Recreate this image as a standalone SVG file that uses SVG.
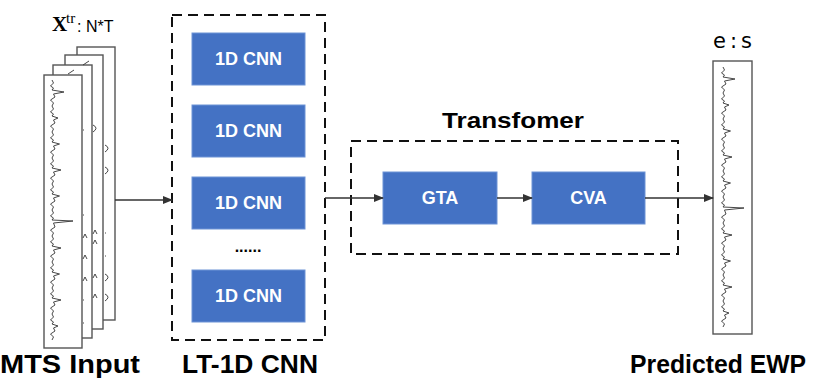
<svg xmlns="http://www.w3.org/2000/svg" xmlns:xlink="http://www.w3.org/1999/xlink" width="815" height="381" viewBox="0 0 815 381">
<style>
.frame{fill:#fff;stroke:#555;stroke-width:1.4}
.trace{fill:none;stroke:#333;stroke-width:0.9;stroke-linejoin:round}
.dash{fill:none;stroke:#111;stroke-width:2;stroke-dasharray:10,6}
.blk{fill:#4472C4;stroke:#6d93d6;stroke-width:1}
.bt{fill:#fff;font-family:"Liberation Sans",Arial,sans-serif;font-weight:bold;font-size:18px;text-anchor:middle}
.big{fill:#000;font-family:"Liberation Sans",Arial,sans-serif;font-weight:bold;font-size:26px;text-anchor:middle}
.conn{fill:none;stroke:#333;stroke-width:1.6}
</style>
<defs>
<marker id="ah" markerWidth="10" markerHeight="8" refX="9" refY="4" orient="auto" markerUnits="userSpaceOnUse">
<path d="M0,0 L10,4 L0,8 Z" fill="#333"/>
</marker>
<path id="ecg" vector-effect="non-scaling-stroke" d="M0,0 l1,3 l-2,3 l2,2 l-1,2 l8,2 l-7,2 l1,3 l-3,3 l2,3 l-1,3 l1,3 l-2,3 l2,2 l-1,2 l4,2 l-3,2 l1,3 l-3,3 l2,3 l-1,3 l1,3 l-2,3 l2,2 l-1,2 l5,2 l-4,2 l1,3 l-3,3 l2,3 l-1,3 l1,3 l-2,3 l2,2 l-1,2 l6,2 l-5,2 l1,3 l-3,3 l2,3 l-1,3 l1,3 l-2,3 l2,2 l-1,2 l5,2 l-4,2 l1,3 l-3,3 l2,3 l-1,3 l1,3 l-2,3 l2,2 l-1,2 l14,1 l-13,2 l1,4 l-3,3 l2,3 l-1,3 l1,3 l-2,3 l2,2 l-1,2 l6,2 l-5,2 l1,3 l-3,3 l2,3 l-1,3 l1,3 l-2,3 l2,2 l-1,2 l5,2 l-4,2 l1,3 l-3,3 l2,3 l-1,3 l1,3 l-2,3 l2,2 l-1,2 l6,2 l-5,2 l1,3 l-3,3 l2,3 l-1,3 l1,3 l-2,3 l2,2 l-1,2 l4,2 l-3,2 l1,3 l-3,3 l2,3 l-1,3"/>
</defs>

<g id="mts-input">
<rect class="frame" x="77" y="47" width="38" height="273"/>
<rect class="frame" x="65" y="55" width="38" height="274"/>
<rect class="frame" x="53" y="65" width="39" height="273"/>
<rect class="frame" x="44" y="75" width="38" height="273"/>
<use xlink:href="#ecg" class="trace" transform="translate(52,80) scale(1.5,1)"/>
<path class="trace" d="M83,65 l6,-4 M68,74 l6,-4 M93,125 q6,3 0,7 M105,145 q6,3 0,7 M105,167 q6,3 0,7 M83,130 l1,0 M83,215 l1,0 M83,238 l2,-4 l2,4 M83,259 l2,-4 l2,4 M83,281 l2,-4 l2,4 M83,300 l1,0 M83,323 l1,0 M93,234 l2,-4 l2,4 M93,244 l2,-4 l2,4 M93,278 l2,-4 l2,4 M93,298 l2,-4 l2,4 M105,233 l1,0 M105,256 l1,0 M105,274 q6,3 0,7 M105,294 q6,3 0,7"/>
<text x="52" y="31" font-family="'Liberation Serif',serif" font-weight="bold" font-size="21">X</text>
<text x="66" y="23" font-family="'Liberation Serif',serif" font-size="15">tr</text>
<text x="77" y="32" font-family="'Liberation Sans',Arial,sans-serif" font-size="16">: N*T</text>
<text class="big" x="70" y="373" textLength="140" lengthAdjust="spacingAndGlyphs">MTS Input</text>
</g>

<g id="lt-1d-cnn">
<rect class="dash" x="172" y="15" width="153" height="325"/>
<rect class="blk" x="192" y="33" width="113" height="52"/>
<text class="bt" x="248.5" y="65">1D CNN</text>
<rect class="blk" x="192" y="105" width="113" height="52"/>
<text class="bt" x="248.5" y="137">1D CNN</text>
<rect class="blk" x="192" y="177" width="113" height="52"/>
<text class="bt" x="248.5" y="209">1D CNN</text>
<text x="248" y="252" font-family="'Liberation Sans',Arial,sans-serif" font-size="16" text-anchor="middle" font-weight="bold">......</text>
<rect class="blk" x="192" y="270" width="113" height="52"/>
<text class="bt" x="248.5" y="302">1D CNN</text>
<text class="big" x="250" y="373" textLength="136" lengthAdjust="spacingAndGlyphs">LT-1D CNN</text>
</g>

<g id="transformer">
<rect class="dash" x="351" y="141" width="327" height="113"/>
<text x="513" y="128" font-family="'Liberation Sans',Arial,sans-serif" font-weight="bold" font-size="22" text-anchor="middle" textLength="142" lengthAdjust="spacingAndGlyphs">Transfomer</text>
</g>

<g id="gta">
<rect class="blk" x="383" y="172" width="114" height="52"/>
<text class="bt" x="440" y="204">GTA</text>
</g>

<g id="cva">
<rect class="blk" x="532" y="172" width="113" height="52"/>
<text class="bt" x="588.5" y="204">CVA</text>
</g>

<g id="predicted-ewp">
<rect class="frame" x="713" y="61" width="39" height="273"/>
<use xlink:href="#ecg" class="trace" transform="translate(723,67) scale(1.5,1)"/>
<text x="713" y="48" font-family="'DejaVu Sans',sans-serif" font-size="21" letter-spacing="1">e<tspan dx="3">:</tspan><tspan dx="3">s</tspan></text>
<text class="big" x="718" y="373" font-size="25" textLength="176" lengthAdjust="spacingAndGlyphs" style="font-size:25px">Predicted EWP</text>
</g>

<g id="connectors">
<line class="conn" x1="115" y1="200" x2="172" y2="200" marker-end="url(#ah)"/>
<line class="conn" x1="325" y1="198" x2="383" y2="198" marker-end="url(#ah)"/>
<line class="conn" x1="497" y1="198" x2="532" y2="198" marker-end="url(#ah)"/>
<line class="conn" x1="645" y1="198" x2="713" y2="198" marker-end="url(#ah)"/>
</g>
</svg>
